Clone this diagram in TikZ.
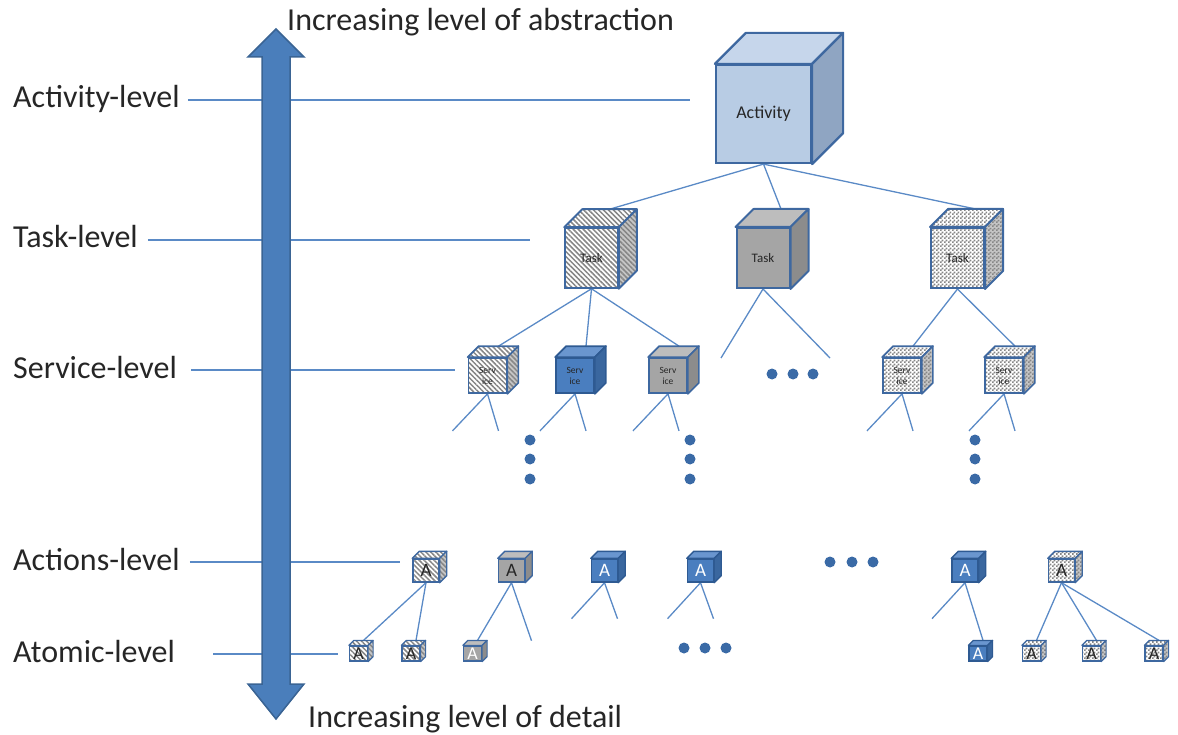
\documentclass[tikz,border=0pt]{standalone}
\usepackage{fontspec}
\setmainfont{Carlito}
\usetikzlibrary{calc, backgrounds, patterns, patterns.meta}
\definecolor{linkcol}{HTML}{5A8AC6}
\definecolor{textcol}{HTML}{262626}
\definecolor{dotcol}{HTML}{3A6AA6}
\definecolor{arrowfill}{HTML}{4A7EBB}
\definecolor{arrowedge}{HTML}{3A6494}
\definecolor{cubeedge}{HTML}{3E68A0}
\definecolor{actfront}{HTML}{B8CCE4}
\definecolor{acttop}{HTML}{C6D6EB}
\definecolor{actside}{HTML}{8FA5C2}
\definecolor{grayfront}{HTML}{A5A5A5}
\definecolor{graytop}{HTML}{BDBDBD}
\definecolor{grayside}{HTML}{8C8C8C}
\definecolor{bluefront}{HTML}{4A7EBF}
\definecolor{bluetop}{HTML}{6A96CF}
\definecolor{blueside}{HTML}{3A679F}
\definecolor{blueedge}{HTML}{2E5A92}
\pgfdeclarepatternformonly{finechecker}{\pgfpointorigin}{\pgfpoint{4pt}{4pt}}{\pgfpoint{4pt}{4pt}}{
  \pgfpathrectangle{\pgfpointorigin}{\pgfpoint{2pt}{2pt}}
  \pgfpathrectangle{\pgfpoint{2pt}{2pt}}{\pgfpoint{2pt}{2pt}}
  \pgfusepath{fill}}

\begin{document}
\begin{tikzpicture}[x=1pt, y=-1pt,
    every node/.style={font=\fontsize{32}{38}\selectfont, text=textcol},
    lbl/.style={anchor=west, inner sep=0pt, text height=22pt, text depth=6pt},
    ttl/.style={anchor=base west, inner sep=0pt},
    cube/.style={inner sep=0pt, align=center},
    lvl1/.style={cube, line width=2.2pt, minimum width=95pt, minimum height=98pt,
                 font=\fontsize{18}{20}\selectfont},
    lvl2/.style={cube, line width=2pt, minimum width=53pt, minimum height=60pt,
                 font=\fontsize{13}{14}\selectfont},
    lvl3/.style={cube, line width=1.7pt, minimum width=38pt, minimum height=35pt,
                 font=\fontsize{9.5}{11}\selectfont},
    lvl4/.style={cube, line width=1.4pt, minimum width=26pt, minimum height=23pt,
                 font=\fontsize{19}{19}\selectfont},
    lvl5/.style={cube, line width=1.2pt, minimum width=18pt, minimum height=15pt,
                 font=\fontsize{18}{18}\selectfont},
    actc/.style={draw=cubeedge, fill=actfront},
    actctop/.style={draw=cubeedge, fill=acttop},
    actcside/.style={draw=cubeedge, fill=actside},
    grayc/.style={draw=cubeedge, fill=grayfront},
    grayctop/.style={draw=cubeedge, fill=graytop},
    graycside/.style={draw=cubeedge, fill=grayside},
    bluec/.style={draw=blueedge, fill=bluefront},
    bluectop/.style={draw=blueedge, fill=bluetop},
    bluecside/.style={draw=blueedge, fill=blueside},
    stripe/.style={draw=cubeedge, preaction={fill=white},
                   pattern={Lines[angle=-45,distance=3.5pt,line width=1.5pt]}, pattern color=gray!95},
    stripetop/.style={stripe},
    stripeside/.style={stripe, preaction={fill=gray!45}},
    checker/.style={draw=cubeedge, preaction={fill=white}, pattern=finechecker, pattern color=gray!95},
    checkertop/.style={checker},
    checkerside/.style={checker, preaction={fill=gray!45}},
    link/.style={draw=linkcol, line width=1.3pt},
    levelline/.style={draw=linkcol, line width=1.3pt},
    dot/.style={fill=dotcol},
    bigarrow/.style={fill=arrowfill, draw=arrowedge, line width=1.5pt},
]
\useasboundingbox (0,0) rectangle (1178,735);

% level names on the left
\node[lbl] (lact) at (13,100) {Activity-level};
\node[lbl] (ltask) at (13,240) {Task-level};
\node[lbl] (lserv) at (13,370) {Service-level};
\node[lbl] (lacts) at (13,562) {Actions-level};
\node[lbl] (latom) at (13,654) {Atomic-level};

\coordinate (lactend) at (690,100);
\coordinate (ltaskend) at (530,240);
\coordinate (lservend) at (455,370);
\coordinate (lactsend) at (400,562);
\coordinate (latomend) at (338,654);

% double arrow
\draw[bigarrow] (262,684) -- (262,57) -- (248,57) -- (276,29) -- (304,57) -- (290,57)
    -- (290,684) -- (304,684) -- (276,719) -- (248,684) -- cycle;
\node[ttl] (upttl) at (287,31) {Increasing level of abstraction};
\node[ttl] (downttl) at (308,727) {Increasing level of detail};

% cubes (front faces)
\node[lvl1, actc] (act) at (763.5,114) {Activity};
\node[lvl2, stripe] (t1) at (591.5,258) {Task};
\node[lvl2, grayc] (t2) at (763,258) {Task};
\node[lvl2, checker] (t3) at (957.5,258) {Task};
\node[lvl3, stripe] (s1) at (487.5,375.5) {Serv\\ice};
\node[lvl3, bluec] (s2) at (575,375.5) {Serv\\ice};
\node[lvl3, grayc] (s3) at (668,375.5) {Serv\\ice};
\node[lvl3, checker] (s4) at (902,375.5) {Serv\\ice};
\node[lvl3, checker] (s5) at (1004,375.5) {Serv\\ice};
\node[lvl4, stripe] (a1) at (426,570.5) {A};
\node[lvl4, grayc] (a2) at (511.5,570.5) {A};
\node[lvl4, bluec, text=white] (a3) at (604.5,570.5) {A};
\node[lvl4, bluec, text=white] (a4) at (700.5,570.5) {A};
\node[lvl4, bluec, text=white] (a5) at (965,570.5) {A};
\node[lvl4, checker] (a6) at (1061.5,570.5) {A};
\node[lvl5, stripe] (m1) at (358.5,653.5) {A};
\node[lvl5, stripe] (m2) at (411,653.5) {A};
\node[lvl5, grayc, text=white] (m3) at (472.5,653.5) {A};
\node[lvl5, bluec, text=white] (m4) at (978,653.5) {A};
\node[lvl5, checker] (m5) at (1031.5,653.5) {A};
\node[lvl5, checker] (m6) at (1091.5,653.5) {A};
\node[lvl5, checker] (m7) at (1154,653.5) {A};

% top and side faces
\foreach \n/\d/\w/\k in {act/31/2.2/actc, t1/18/2/stripe, t2/18/2/grayc, t3/18/2/checker,
    s1/11/1.7/stripe, s2/11/1.7/bluec, s3/11/1.7/grayc, s4/11/1.7/checker, s5/11/1.7/checker,
    a1/7/1.4/stripe, a2/7/1.4/grayc, a3/7/1.4/bluec, a4/7/1.4/bluec, a5/7/1.4/bluec,
    a6/7/1.4/checker, m1/5/1.2/stripe, m2/5/1.2/stripe, m3/5/1.2/grayc, m4/5/1.2/bluec,
    m5/5/1.2/checker, m6/5/1.2/checker, m7/5/1.2/checker} {
  \draw[\k top, line width=\w pt, line join=round] (\n.north west) -- ++(\d,-\d)
      -- ($(\n.north east)+(\d,-\d)$) -- (\n.north east) -- cycle;
  \draw[\k side, line width=\w pt, line join=round] (\n.north east) -- ++(\d,-\d)
      -- ($(\n.south east)+(\d,-\d)$) -- (\n.south east) -- cycle;
  \coordinate (\n-t) at ($(\n.north)+(\d,-\d)$);
}

% open branches
\coordinate (t2-l) at ($(t2.south)+(-42,69)$);
\coordinate (t2-r) at ($(t2.south)+(67,69)$);
\foreach \c in {s1,s2,s3,s4,s5} {
  \coordinate (\c-l) at ($(\c.south)+(-35,37)$);
  \coordinate (\c-r) at ($(\c.south)+(11,37)$);
}
\foreach \c in {a3,a4} {
  \coordinate (\c-l) at ($(\c.south)+(-33,36)$);
  \coordinate (\c-r) at ($(\c.south)+(13,36)$);
}
\coordinate (a5-l) at ($(a5.south)+(-33,36)$);
\coordinate (a2-r) at ($(a2.south)+(20,58)$);

% connectors
\begin{scope}[on background layer]
  \draw[levelline] ([xshift=8pt]lact.east) -- (lactend);
  \draw[levelline] ([xshift=10pt]ltask.east) -- (ltaskend);
  \draw[levelline] ([xshift=14pt]lserv.east) -- (lservend);
  \draw[levelline] ([xshift=10pt]lacts.east) -- (lactsend);
  \draw[levelline] ([xshift=38pt]latom.east) -- (latomend);
  \foreach \c in {t1,t2,t3} \draw[link] (act.south) -- (\c-t);
  \foreach \c in {s1,s2,s3} \draw[link] (t1.south) -- (\c-t);
  \foreach \c in {s4,s5} \draw[link] (t3.south) -- (\c-t);
  \draw[link] (t2-l) -- (t2.south) -- (t2-r);
  \foreach \c in {s1,s2,s3,s4,s5,a3,a4} \draw[link] (\c-l) -- (\c.south) -- (\c-r);
  \foreach \c in {m1,m2} \draw[link] (a1.south) -- (\c-t);
  \draw[link] (m3-t) -- (a2.south) -- (a2-r);
  \draw[link] (a5-l) -- (a5.south) -- (m4-t);
  \foreach \c in {m5,m6,m7} \draw[link] (a6.south) -- (\c-t);
\end{scope}

% continuation dots
\foreach \x in {530,690,975}
  \foreach \y in {440,459,479}
    \fill[dot] (\x,\y) circle (5.5);
\foreach \x/\y in {772/374, 793/374, 813/374, 830/562, 852/562, 873/562,
    684/648, 705/648, 726/648}
  \fill[dot] (\x,\y) circle (5.5);

\end{tikzpicture}
\end{document}
